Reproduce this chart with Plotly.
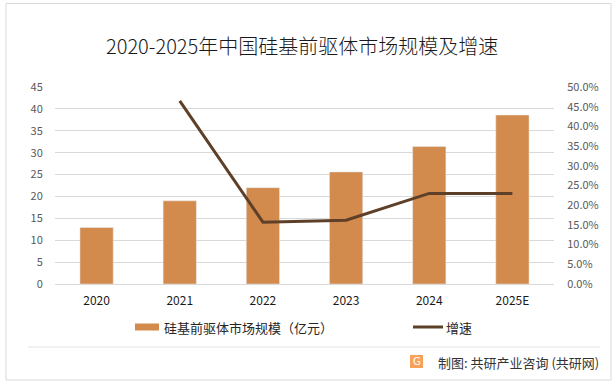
import plotly.graph_objects as go

years = ["2020", "2021", "2022", "2023", "2024", "2025E"]
market_size = [12.9, 19.0, 22.0, 25.6, 31.4, 38.6]
growth = [None, 0.465, 0.157, 0.162, 0.230, 0.230]

bar_color = "#D38B4D"
line_color = "#5E4029"
FONT = "Noto Sans CJK SC"

W, H = 616, 386
L, R, T, B = 55, 62, 87, 102
PW, PH = W - L - R, H - T - B


def X(px):
    return (px - L) / PW


def Y(py):
    return (H - B - py) / PH


fig = go.Figure()
fig.add_trace(go.Bar(x=years, y=market_size, marker_color=bar_color, name="硅基前驱体市场规模（亿元）",
                     showlegend=False, yaxis="y"))
fig.add_trace(go.Scatter(x=years, y=growth, mode="lines", line=dict(color=line_color, width=3),
                         name="增速", showlegend=False, yaxis="y2", connectgaps=False))

shapes = [
    # outer border
    dict(type="rect", xref="paper", yref="paper", x0=X(6), x1=X(611), y0=Y(3.5), y1=Y(380),
         line=dict(color="#D9D9D9", width=1), layer="below"),
    # bottom separator
    dict(type="line", xref="paper", yref="paper", x0=X(28), x1=X(600), y0=Y(347), y1=Y(347),
         line=dict(color="#E3E3E3", width=1)),
    # legend swatches
    dict(type="rect", xref="paper", yref="paper", x0=X(135), x1=X(159), y0=Y(323.5), y1=Y(330.5),
         fillcolor=bar_color, line=dict(width=0)),
    dict(type="line", xref="paper", yref="paper", x0=X(413), x1=X(443), y0=Y(327), y1=Y(327),
         line=dict(color=line_color, width=3)),
    # logo
    dict(type="rect", xref="paper", yref="paper", x0=X(410), x1=X(423), y0=Y(355), y1=Y(368),
         fillcolor="#F6A25A", line=dict(width=0)),
]

annotations = [
    dict(text="2020-2025年中国硅基前驱体市场规模及增速", xref="paper", yref="paper", x=X(302), y=Y(46),
         showarrow=False, font=dict(size=20, color="#1a1a1a", family=FONT, weight=300),
         xanchor="center", yanchor="middle"),
    dict(text="硅基前驱体市场规模（亿元）", xref="paper", yref="paper", x=X(162), y=Y(327),
         showarrow=False, font=dict(size=13, color="#262626", family=FONT), xanchor="left", yanchor="middle"),
    dict(text="增速", xref="paper", yref="paper", x=X(444), y=Y(327),
         showarrow=False, font=dict(size=13, color="#262626", family=FONT), xanchor="left", yanchor="middle"),
    dict(text="G", xref="paper", yref="paper", x=X(416.5), y=Y(361.5),
         showarrow=False, font=dict(size=10, color="white", family="DejaVu Sans"), xanchor="center", yanchor="middle"),
    dict(text="制图: 共研产业咨询 (共研网)", xref="paper", yref="paper", x=X(601), y=Y(362),
         showarrow=False, font=dict(size=13, color="#333333", family=FONT), xanchor="right", yanchor="middle"),
]

fig.update_layout(
    width=W, height=H,
    margin=dict(l=L, r=R, t=T, b=B),
    paper_bgcolor="white", plot_bgcolor="white",
    bargap=0.6,
    font=dict(family=FONT, size=11, color="#595959"),
    xaxis=dict(showgrid=False, showline=True, linecolor="#D9D9D9", linewidth=1,
               tickfont=dict(size=12, color="#1a1a1a"), ticks="outside", ticklen=6, tickcolor="rgba(0,0,0,0)"),
    yaxis=dict(range=[0, 45], dtick=5, showgrid=True, gridcolor="#D9D9D9", gridwidth=1, zeroline=False,
               ticks="outside", ticklen=9, tickcolor="rgba(0,0,0,0)", tickfont=dict(size=11, color="#595959")),
    yaxis2=dict(range=[0, 0.5], dtick=0.05, tickformat=".1%", overlaying="y", side="right", showgrid=False,
                zeroline=False, ticks="outside", ticklen=10, tickcolor="rgba(0,0,0,0)",
                tickfont=dict(size=11, color="#595959")),
    shapes=shapes,
    annotations=annotations,
    showlegend=False,
)

fig.write_html("out.html", config={"displayModeBar": False},
               post_script="document.body.style.margin='0px';")
